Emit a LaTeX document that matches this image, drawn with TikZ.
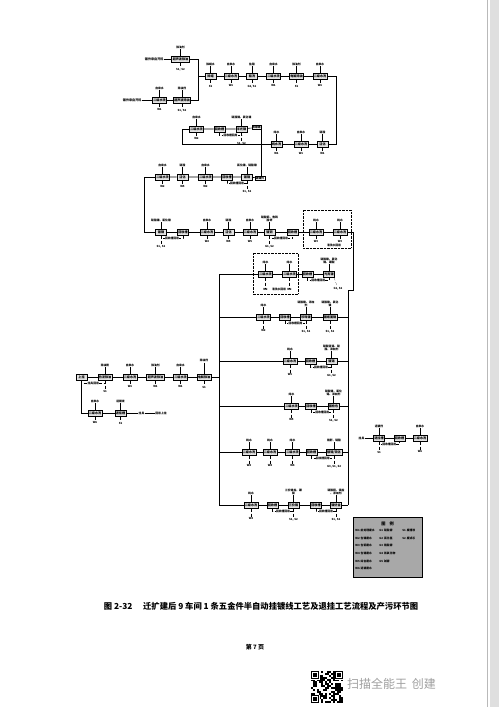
\documentclass[tikz,border=0pt]{standalone}
\usepackage{fontspec}
\setmainfont{Noto Sans CJK SC}
\usetikzlibrary{positioning, calc}

\newcommand{\boxfont}{\fontsize{3.1}{3.4}\selectfont\bfseries}
\newcommand{\labfont}{\fontsize{2.8}{3.1}\selectfont\bfseries}

% feed above a tank, discharge below it
\newcommand{\infeed}[2]{%
  \node[feedtxt, above=6.5pt of #1] (#1-in) {#2};
  \draw[thin] (#1-in) -- (#1);}
\newcommand{\outlet}[3][5pt]{%
  \node[wastetxt, below=#1 of #2] (#2-out) {#3};
  \draw[densely dashed, ultra thin] (#2) -- (#2-out);}
\newcommand{\reuse}[3][回收槽回用]{%
  \draw[densely dashed, ultra thin] (#2.south) -- ++(0,-3pt) -| node[pos=0.25, fill=white, inner sep=0.2pt, font=\labfont] (#2-rc) {#1} (#3.south);}

\tikzset{
  proc/.style={draw, line width=0.6pt, fill=gray!22, font=\boxfont, minimum height=6.4pt, minimum width=11pt, inner xsep=1pt, inner ysep=0.4pt},
  feedtxt/.style={font=\labfont, inner sep=0.2pt, align=center},
  wastetxt/.style={font=\labfont, inner sep=0.2pt},
  srctxt/.style={font=\boxfont, inner sep=0.3pt},
  tagbox/.style={draw, thin, font=\labfont, inner sep=0.6pt},
  zone/.style={draw, densely dotted, thin},
  flow/.style={line width=0.6pt},
  legtxt/.style={font=\labfont, inner sep=0.2pt, anchor=west},
}

\begin{document}
\begin{tikzpicture}[x=1pt, y=-1pt]
\useasboundingbox (0,0) rectangle (499,707);
\fill[white] (0,0) rectangle (499,707);
% scan edge
\fill[gray!25] (490,0) rectangle (499,707);
\draw[gray!55, thin] (487,0) -- (487,707);

% ---------------- pre-treatment ----------------
\node[srctxt, anchor=east] (s1) at (164,59) {镀件来自开料};
\node[proc] (p1) at (180.5,59) {超声波除油};
\draw[flow] (s1) -- (p1);
\infeed{p1}{除油剂} \outlet{p1}{S1, S2}

\node[srctxt, anchor=east] (s2) at (142,100) {镀件来自开料};
\node[proc] (q1) at (159.5,100) {二级水洗};
\node[proc] (q2) at (182,100) {超声波除油};
\draw[flow] (s2) -- (q1) -- (q2);
\infeed{q1}{自来水} \infeed{q2}{除油剂}
\outlet{q1}{W1} \outlet{q2}{S1, S2}

\coordinate (mg) at (198,76);
\draw[flow] (p1) -| (mg);
\draw[flow] (q2) -| (mg);

\node[proc] (A) at (210.5,76) {除蜡};
\node[proc] (B) at (231,76) {二级水洗};
\node[proc] (C) at (252,76) {酸洗};
\node[proc] (D) at (273.5,76) {二级水洗};
\node[proc] (E) at (296.5,76) {电解除油};
\node[proc] (F) at (320,76) {二级水洗};
\draw[flow] (mg) -- (A) -- (B) -- (C) -- (D) -- (E) -- (F);
\infeed{A}{除蜡水} \infeed{B}{自来水} \infeed{C}{盐酸}
\infeed{D}{自来水} \infeed{E}{除油剂} \infeed{F}{自来水}
\outlet{A}{S1} \outlet{B}{W1} \outlet{C}{G2, S1}
\outlet{D}{W1} \outlet{E}{S1} \outlet{F}{W1}

\coordinate (rt) at (336,144);
\node[proc] (G) at (322.5,144) {活化};
\node[proc] (H) at (301,144) {二级水洗};
\node[proc] (I) at (276.5,144) {纯水洗};
\draw[flow] (F) -| (rt) -- (G) -- (H) -- (I);
\infeed{G}{硫酸} \infeed{H}{自来水} \infeed{I}{纯水}
\outlet{G}{W1} \outlet{H}{W1} \outlet{I}{W1}

% ---------------- nickel loops ----------------
\coordinate (lp) at (182,144);
\node[proc] (U1) at (196.5,129) {二级水洗};
\node[proc] (U2) at (219.5,129) {回收槽};
\node[proc] (U3) at (241.5,129) {半光镍};
\node[tagbox] (U4) at (256.5,127.5) {去镀铬};
\draw[flow] (I) -- (lp) |- (U1);
\draw[flow] (U1) -- (U2) -- (U3) -- (U4);
\infeed{U1}{自来水} \infeed{U3}{硫酸镍、氯化镍}
\outlet{U1}{W2} \reuse{U2}{U3} \outlet[9pt]{U3}{S1, S2}

\node[tagbox] (L6) at (260,178) {镀镍件};
\node[proc] (L5) at (247,177) {镀镍};
\node[proc] (L4) at (227,177) {回收槽};
\node[proc] (L3) at (205.5,177) {二级水洗};
\node[proc] (L2) at (182.5,177) {活化};
\node[proc] (L1) at (162.5,177) {二级水洗};
\draw[flow] (U4.south east) -- (U4.south east |- L6.north);
\draw[flow] (L6) -- (L5) -- (L4) -- (L3) -- (L2) -- (L1);
\infeed{L5}{氯化镍、硫酸镍} \infeed{L3}{自来水} \infeed{L2}{硫酸} \infeed{L1}{自来水}
\reuse{L4}{L5} \outlet[9pt]{L5}{S1, S2}
\outlet{L3}{W2} \outlet{L2}{W5} \outlet{L1}{W2}

\coordinate (lc) at (144,177);
\node[proc] (M1) at (161,232) {镀镍};
\node[proc] (M2) at (183,232) {回收槽};
\node[proc] (M3) at (207,232) {二级水洗};
\node[proc] (M4) at (228.5,232) {活化};
\node[proc] (M5) at (250,232) {二级水洗};
\node[proc] (M6) at (269.5,232) {镀铜};
\node[proc] (M7) at (292.5,232) {回收槽};
\node[proc] (M8) at (316,232) {二级水洗};
\node[proc] (M9) at (340,232) {二级水洗};
\draw[flow] (L1) -- (lc) |- (M1);
\draw[flow] (M1) -- (M2) -- (M3) -- (M4) -- (M5) -- (M6) -- (M7) -- (M8) -- (M9);
\infeed{M1}{硫酸镍、氯化镍} \infeed{M3}{自来水} \infeed{M4}{硫酸}
\infeed{M5}{自来水} \infeed{M6}{硫酸铜、焦磷\\酸钾} \infeed{M8}{纯水} \infeed{M9}{纯水}
\reuse{M1}{M2} \outlet[9pt]{M1}{S1, S2}
\outlet{M3}{W2} \outlet{M4}{W5} \outlet{M5}{W5}
\reuse{M6}{M7} \outlet[9pt]{M6}{G1, S2}
\outlet{M8}{W3} \outlet{M9}{W3}
\draw[zone] (303,210) rectangle (351,248);
\node[font=\labfont, inner sep=0.2pt] (z1t) at (334,245.5) {清洗水回用};

% ---------------- right and left mains ----------------
\coordinate (ra) at (353,290);
\coordinate (rb) at (348,290);
\coordinate (rz) at (348,505);
\coordinate (lt) at (219,274);
\coordinate (lz) at (219,505);
\draw[flow] (M9) -| (ra) -- (rb) -- (rz);

\node[proc] (N1) at (265.5,274) {二级水洗};
\node[proc] (N2) at (289.5,274) {二级水洗};
\node[proc] (N3) at (307.5,274) {回收槽};
\node[proc] (N4) at (329,274) {光亮镍};
\draw[flow] (N4) -- (N3) -- (N2) -- (N1) -- (lt) -- (lz);
\infeed{N1}{纯水} \infeed{N2}{纯水} \infeed{N4}{硫酸镍、氯化\\镍、硼酸}
\reuse{N3}{N4}
\node[wastetxt] (N4-out) at (338,288.5) {G1, S2};
\draw[densely dashed, ultra thin] (N4.south east) ++(-1pt,0) -- (N4-out);
\node[wastetxt, below=11pt of N1] (N1-out) {W2};
\node[wastetxt, below=11pt of N2] (N2-out) {W2};
\draw[densely dashed, ultra thin] (N1) -- (N1-out);
\draw[densely dashed, ultra thin] (N2) -- (N2-out);
\draw[zone] (253,253) rectangle (298,294);
\node[font=\labfont, inner sep=0.2pt] (z2t) at (279,289) {清洗水回用};

% ---------------- plating lines ----------------
\node[proc] (a1) at (263.5,317) {二级水洗};
\node[proc] (a2) at (285,317) {回收槽};
\node[proc] (a3) at (306,317) {珍珠镍};
\node[proc] (a4) at (330,317) {镀缎面镍};
\draw[flow] (a1 -| lt) -- (a1) -- (a2) -- (a3) -- (a4) -- (a4 -| rz);
\infeed{a1}{纯水} \infeed{a3}{硫酸镍、添加\\剂} \infeed{a4}{硫酸镍、氯化\\镍}
\outlet[9pt]{a1}{W2} \reuse{a2}{a3} \outlet[9pt]{a3}{S1, S2} \outlet[9pt]{a4}{S1, S2}

\node[proc] (b1) at (290,361) {二级水洗};
\node[proc] (b2) at (310.5,361) {回收槽};
\node[proc] (b3) at (331.5,361) {镀锡};
\draw[flow] (b1 -| lt) -- (b1) -- (b2) -- (b3) -- (b3 -| rz);
\infeed{b1}{纯水} \infeed{b3}{硫酸亚锡、硫\\酸、添加剂}
\outlet[9pt]{b1}{W5} \reuse{b2}{b3} \outlet[9pt]{b3}{G1, S2}

\node[proc] (c1) at (291.5,406) {二级水洗};
\node[proc] (c2) at (311,406) {回收槽};
\node[proc] (c3) at (333.5,406) {镀枪色};
\draw[flow] (c1 -| lt) -- (c1) -- (c2) -- (c3) -- (c3 -| rz);
\infeed{c1}{纯水} \infeed{c3}{硫酸镍、氯化\\锡、添加剂}
\outlet[9pt]{c1}{W5} \reuse{c2}{c3} \outlet[9pt]{c3}{S1, S2}

\node[proc] (d1) at (249,452) {二级水洗};
\node[proc] (d2) at (270,452) {二级水洗};
\node[proc] (d3) at (292.5,452) {二级水洗};
\node[proc] (d4) at (311.5,452) {回收槽};
\node[proc] (d5) at (334,452) {镀铬/钝化};
\draw[flow] (d1 -| lt) -- (d1) -- (d2) -- (d3) -- (d4) -- (d5) -- (d5 -| rz);
\infeed{d1}{纯水} \infeed{d2}{纯水} \infeed{d3}{纯水} \infeed{d5}{铬酐、硫酸}
\outlet[9pt]{d1}{W4} \outlet[9pt]{d2}{W4} \outlet[9pt]{d3}{W4}
\reuse{d4}{d5} \outlet[9pt]{d5}{G3, S1, S2}

\node[proc] (e1) at (251,505) {二级水洗};
\node[proc] (e2) at (272.5,505) {回收槽};
\node[proc] (e3) at (293.5,505) {三价铬};
\node[proc] (e4) at (316,505) {回收槽};
\node[proc] (e5) at (336,505) {镀仿金};
\draw[flow] (lz) -- (e1) -- (e2) -- (e3) -- (e4) -- (e5) -- (rz);
\infeed{e1}{纯水} \infeed{e3}{三价铬盐、硼\\酸} \infeed{e5}{硫酸铜、锡盐\\、添加剂}
\outlet[9pt]{e1}{W4} \reuse{e2}{e3} \outlet[9pt]{e3}{S1, S2}
\reuse{e4}{e5} \outlet[9pt]{e5}{S1, S2}

% ---------------- racking line ----------------
\node[proc] (k1) at (81.5,377) {上挂};
\node[proc] (k2) at (105,377) {热浸除油};
\node[proc] (k3) at (130,377) {二级水洗};
\node[proc] (k4) at (155.5,377) {超声波除油};
\node[proc] (k5) at (180.5,377) {二级水洗};
\node[proc] (k6) at (204,377) {电解除油};
\draw[flow] (k1) -- (k2) -- (k3) -- (k4) -- (k5) -- (k6) -- (k6 -| lt);
\infeed{k2}{除油粉} \infeed{k3}{自来水} \infeed{k4}{除油剂} \infeed{k5}{自来水}
\node[feedtxt, above=11pt of k6] (k6-in) {除油剂};
\draw[thin] (k6-in) -- (k6);
\reuse[挂具回用]{k1}{k2} \outlet[9pt]{k2}{S1}
\outlet{k3}{W1} \outlet{k4}{W1} \outlet{k5}{W1} \outlet{k6}{S1}

\node[proc] (k7) at (95,413) {二级水洗};
\node[proc] (k8) at (120.5,413) {退挂槽};
\node[wastetxt] (k9) at (141.5,413) {挂具};
\node[wastetxt] (k10) at (161,413) {回用上挂};
\draw[flow] (k1) |- (k7);
\draw[flow] (k7) -- (k8) -- (k9) -- (k10);
\infeed{k7}{自来水} \infeed{k8}{退镀液}
\outlet{k7}{W6} \outlet{k8}{S1}

% ---------------- rack stripping ----------------
\node[wastetxt] (j0) at (361.5,438) {挂具};
\node[proc] (j1) at (379,438) {退挂槽};
\node[proc] (j2) at (399.5,438) {回收槽};
\node[proc] (j3) at (420,438) {二级水洗};
\draw[flow] (j0) -- (j1) -- (j2) -- (j3);
\infeed{j1}{退镀剂} \infeed{j3}{自来水}
\reuse{j1}{j2} \outlet[9pt]{j1}{S1} \outlet[9pt]{j3}{W6}

% ---------------- legend ----------------
\node[draw, fill=gray!68, minimum width=69pt, minimum height=60pt, anchor=north west, inner sep=0pt] (leg) at (353,517) {};
\node[font=\fontsize{4.2}{4.5}\selectfont\bfseries] (legt) at (387.5,523.5) {图\hspace{4pt}例};
\foreach \k/\t [count=\n] in {W1/前处理废水, W2/含镍废水, W3/含铜废水, W4/含铬废水, W5/综合废水, W6/退镀废水}
  \node[legtxt] (lw\n) at (355,{523+7.6*\n}) {\k\hspace{1pt}\t};
\foreach \k/\t [count=\n] in {G1/硫酸雾, G2/氯化氢, G3/铬酸雾, G4/氮氧化物, G5/碱雾}
  \node[legtxt] (lg\n) at (379,{523+7.6*\n}) {\k\hspace{1pt}\t};
\foreach \k/\t [count=\n] in {S1/废槽液, S2/废滤芯}
  \node[legtxt] (ls\n) at (402,{523+7.6*\n}) {\k\hspace{1pt}\t};

% ---------------- caption ----------------
\node[font=\fontsize{8.3}{10}\selectfont\bfseries] (cap) at (261,606)
  {图 2-32\hspace{1.3em}迁扩建后 9 车间 1 条五金件半自动挂镀线工艺及退挂工艺流程及产污环节图};
\node[font=\fontsize{6}{7}\selectfont\bfseries] (pg) at (255,647) {第 7 页};

% scanner mark
\pgfmathsetseed{17}
\foreach \i in {0,...,15}{
  \foreach \j in {0,...,15}{
    \pgfmathsetmacro{\qq}{rnd}
    \ifdim\qq pt>0.5pt \fill (311+2*\i,671+2*\j) rectangle ++(2,2); \fi
  }
}
\foreach \fx/\fy in {311/671, 335/671, 311/695}{
  \fill[white] (\fx-0.5,\fy-0.5) rectangle ++(9,9);
  \fill (\fx,\fy) rectangle ++(8,8);
  \fill[white] (\fx+1,\fy+1) rectangle ++(6,6);
  \fill (\fx+2.3,\fy+2.3) rectangle ++(3.4,3.4);
}
\node[anchor=west, font=\fontsize{12}{13}\selectfont, text=gray!75, inner sep=0pt] (scn) at (347,684) {扫描全能王\hspace{0.4em}创建};
\end{tikzpicture}
\end{document}
